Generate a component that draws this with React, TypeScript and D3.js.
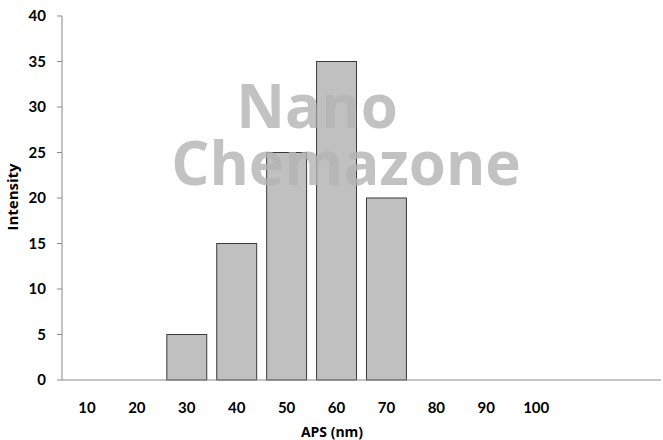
import React from "react";
import * as d3 from "d3";

const categories = ["10", "20", "30", "40", "50", "60", "70", "80", "90", "100", "", " "];
const values = [0, 0, 5, 15, 25, 35, 20, 0, 0, 0, 0, 0];
const yTicks = [0, 5, 10, 15, 20, 25, 30, 35, 40];

export default function App() {
  const W = 663, H = 440;
  const left = 62, right = 661, top = 16, bottom = 380;
  const x = d3.scaleBand<string>().domain(categories).range([left, right]).paddingInner(0.2).paddingOuter(0.1);
  const y = d3.scaleLinear().domain([0, 40]).range([bottom, top]);
  const font = "Lato, 'Open Sans', sans-serif";
  const titleFont = "'Open Sans', sans-serif";
  return (
    <svg width={W} height={H} style={{ position: "absolute", left: 0, top: 0, background: "#fff" }} fontFamily={font}>
      {categories.map((c, i) =>
        values[i] > 0 ? (
          <rect key={i} x={x(c)!} y={y(values[i])} width={x.bandwidth()} height={bottom - y(values[i])}
            fill="#c0c0c0" stroke="#3a3a3a" strokeWidth={1} />
        ) : null
      )}
      <g fontFamily="'Open Sans', sans-serif" fontWeight="bold" fill="#b4b4b4" opacity={0.8} textAnchor="middle">
        <text x={317} y={128} fontSize={60}>Nano</text>
        <text x={346} y={185} fontSize={60}>Chemazone</text>
      </g>
      <line x1={left} x2={left} y1={top} y2={bottom} stroke="#8a8a8a" />
      <line x1={left} x2={right} y1={bottom} y2={bottom} stroke="#8a8a8a" />
      {yTicks.map(t => (
        <g key={t}>
          <line x1={left - 5} x2={left} y1={y(t)} y2={y(t)} stroke="#8a8a8a" />
          <text x={46} y={y(t)} dy="0.35em" textAnchor="end" fontSize={15} fontWeight="bold" fill="#000">{t}</text>
        </g>
      ))}
      {categories.map((c, i) => (
        <text key={"x" + i} x={x(c)! + x.bandwidth() / 2} y={408} dy="0.35em" textAnchor="middle" fontSize={15} fontWeight="bold" fill="#000">{c}</text>
      ))}
      <text x={332} y={432} dy="0.35em" textAnchor="middle" fontSize={14} fontWeight="bold" fill="#000" fontFamily={titleFont}>APS (nm)</text>
      <text transform={`translate(13,197) rotate(-90)`} dy="0.35em" textAnchor="middle" fontSize={15} fontWeight="bold" fill="#000" fontFamily={titleFont}>Intensity</text>
    </svg>
  );
}
